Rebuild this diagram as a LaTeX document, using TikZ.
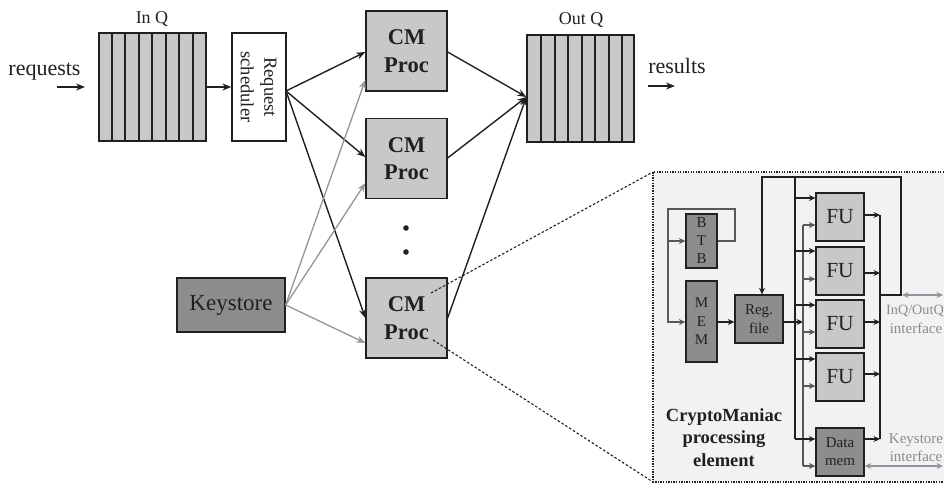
\documentclass[tikz,border=0pt]{standalone}
\usepackage{fontspec}
\setmainfont{Liberation Serif}
\usetikzlibrary{arrows.meta,calc,backgrounds}
\definecolor{ink}{HTML}{231F20}
\definecolor{lg}{HTML}{C7C8CA}
\definecolor{dg}{HTML}{8C8D8F}
\definecolor{wire}{HTML}{58595B}
\definecolor{gw}{HTML}{939598}
\definecolor{panel}{HTML}{F1F2F4}
\definecolor{soft}{HTML}{8A8B8D}
\newcommand{\fs}[1]{\fontsize{#1}{#1}\selectfont}
\tikzset{
  x=1pt,y=-1pt,
  box/.style={draw=ink,line width=1.3pt,inner sep=0pt,align=center,text=ink},
  lbox/.style={box,fill=lg},
  dbox/.style={box,fill=dg},
  txt/.style={inner sep=0pt,text=ink,align=center},
  soft label/.style={inner sep=0pt,text=soft,align=center,font=\fs{15}},
  arr/.style={draw=ink,line width=1.4pt,-{Stealth[length=9pt,width=7pt]}},
  garr/.style={draw=gw,line width=1.3pt,-{Stealth[length=9pt,width=7pt]}},
  sarr/.style={draw=ink,line width=1.05pt,-{Stealth[length=6.5pt,width=6pt]}},
  wirearr/.style={draw=wire,line width=1.05pt,-{Stealth[length=6.5pt,width=6pt]}},
  iface/.style={draw=gw,line width=1.1pt,{Stealth[length=6.5pt,width=6pt]}-{Stealth[length=6.5pt,width=6pt]}},
  slat/.style={draw=ink,line width=1.3pt},
  zoomline/.style={draw=ink,line width=1.2pt,dash pattern=on 1.3pt off 1.3pt},
  zoomdiag/.style={draw=ink,line width=1.1pt,dash pattern=on 2.5pt off 2pt},
}
\begin{document}
\begin{tikzpicture}
\useasboundingbox (0,0) rectangle (944,483);
% queues
\node[lbox,minimum width=107pt,minimum height=108pt] (inq) at (152.5,87) {};
\node[lbox,minimum width=107pt,minimum height=107pt] (outq) at (580.5,88.5) {};
\foreach \i/\x in {1/112,2/125,3/139,4/152,5/166,6/179,7/193}
  \draw[slat] (inq.north -| \x,0) -- (inq.south -| \x,0);
\foreach \i/\x in {1/541,2/555,3/568,4/582,5/595,6/609,7/622}
  \draw[slat] (outq.north -| \x,0) -- (outq.south -| \x,0);
\node[txt,font=\fs{18},anchor=base] (inql) at (152,23) {In Q};
\node[txt,font=\fs{18},anchor=base] (outql) at (581,24) {Out Q};
% scheduler
\node[box,fill=white,minimum width=54pt,minimum height=108pt] (sched) at (259,87) {};
\node[txt,font=\fs{18.5},rotate=-90,align=center] (schedl) at (258.5,87) {Request\\[5pt]scheduler};
% CM
\node[lbox,minimum width=81pt,minimum height=80pt,font=\fs{22.5}\bfseries] (cm1) at (406.5,51) {CM\\[5pt]Proc};
\node[lbox,minimum width=81pt,minimum height=80pt,font=\fs{22.5}\bfseries] (cm2) at (406.5,158.5) {CM\\[5pt]Proc};
\node[lbox,minimum width=81pt,minimum height=80pt,font=\fs{22.5}\bfseries] (cm3) at (406.5,318) {CM\\[5pt]Proc};
\fill[ink] (406,228) circle (2.8) (406,252) circle (2.8);
\node[dbox,minimum width=108pt,minimum height=54pt,font=\fs{23}] (key) at (231,305) {Keystore};
% labels
\node[txt,font=\fs{22},anchor=base] (req) at (44.5,75) {requests};
\node[txt,font=\fs{22},anchor=base] (res) at (677,73) {results};
\coordinate (reqa) at (57,87); \coordinate (reqb) at (85,87);
\coordinate (resa) at (648,86); \coordinate (resb) at (675,86);
\draw[arr] (reqa) -- (reqb);
\draw[arr] (resa) -- (resb);
\draw[arr] (inq.east |- 0,87) -- (sched.west |- 0,87);
\coordinate (fan) at (286,91);
\draw[arr] (fan) -- (cm1.west |- 0,52);
\draw[arr] (fan) -- (cm2.west |- 0,157);
\draw[arr] (fan) -- (cm3.west |- 0,318);
\coordinate (kfan) at (key.east);
\draw[garr] (kfan) -- (cm1.west |- 0,80);
\draw[garr] (kfan) -- (cm2.west |- 0,183);
\draw[garr] (kfan) -- (cm3.west |- 0,343);
\coordinate (qin) at (outq.west |- 0,97);
\draw[arr] (cm1.east |- 0,52) -- (qin);
\draw[arr] (cm2.east |- 0,158) -- (qin);
\draw[arr] (cm3.east |- 0,318) -- (qin);
% panel
\coordinate (pnw) at (653,172); \coordinate (psw) at (653,482);
\coordinate (pne) at (944,172); \coordinate (pse) at (944,482);
\fill[panel] (pnw) rectangle (pse);
\draw[zoomline] (pne) -- (pnw) -- (psw) -- (pse);
\draw[zoomdiag] (431,293) -- (pnw);
\draw[zoomdiag] (433,340) -- (psw);
% panel blocks
\node[dbox,minimum width=31pt,minimum height=54pt,font=\fs{15}] (btb) at (701.5,241) {B\\[3pt]T\\[3pt]B};
\node[dbox,minimum width=31pt,minimum height=81pt,font=\fs{15}] (mem) at (701.5,321.5) {M\\[3.5pt]E\\[3.5pt]M};
\node[dbox,minimum width=48pt,minimum height=48pt,font=\fs{15}] (reg) at (759,319) {Reg.\\[4pt]file};
\node[lbox,minimum width=48pt,minimum height=48pt,font=\fs{21.5}] (fu1) at (840,217) {FU};
\node[lbox,minimum width=48pt,minimum height=48pt,font=\fs{21.5}] (fu2) at (840,271) {FU};
\node[lbox,minimum width=48pt,minimum height=48pt,font=\fs{21.5}] (fu3) at (840,324) {FU};
\node[lbox,minimum width=48pt,minimum height=48pt,font=\fs{21.5}] (fu4) at (840,377) {FU};
\node[dbox,minimum width=48pt,minimum height=48pt,font=\fs{15}] (dm) at (840,452) {Data\\[3pt]mem};
\node[txt,font=\fs{18.5}\bfseries,anchor=north] (title) at (724,408) {CryptoManiac\\[4pt]processing\\[4pt]element};
% wiring
\draw[wirearr] (btb.east |- 0,241) -- (735,241) -- (735,209) -- (668,209) -- (668,322) -- (mem.west |- 0,322);
\draw[wirearr] (668,241) -- (btb.west |- 0,241);
\draw[sarr] (mem.east |- 0,322) -- (reg.west |- 0,322);
\draw[sarr] (reg.east |- 0,322) -- (803,322);
% gray bus
\draw[draw=wire,line width=1.05pt] (803,225) -- (803,466);
\foreach \t/\y in {fu1/225,fu2/279,fu3/332,fu4/386,dm/466}
  \draw[wirearr] (803,\y) -- (\t.west |- 0,\y);
% black bus
\draw[draw=ink,line width=1.05pt] (795,177) -- (795,439);
\foreach \t/\y in {fu1/198,fu2/251,fu3/305,fu4/359,dm/439}
  \draw[sarr] (795,\y) -- (\t.west |- 0,\y);
% collector
\draw[draw=ink,line width=1.05pt] (880,215) -- (880,439);
\foreach \t/\y in {fu1/215,fu2/273,fu3/322,fu4/374,dm/439}
  \draw[sarr] (\t.east |- 0,\y) -- (880,\y);
% feedback
\draw[sarr] (880,295) -- (901,295) -- (901,177) -- (762,177) -- (reg.north -| 762,0);
% interfaces
\coordinate (ifa) at (902,295); \coordinate (ifb) at (943,295);
\coordinate (ifc) at (943,466);
\draw[iface] (ifa) -- (ifb);
\draw[iface] (dm.east |- 0,466) -- (ifc);
\node[soft label,font=\fs{14.2},anchor=base west] (l1) at (886,314) {InQ/OutQ};
\node[soft label,anchor=base] (l2) at (916,333) {interface};
\node[soft label,anchor=base] (l3) at (916,443) {Keystore};
\node[soft label,anchor=base] (l4) at (916,461) {interface};
\end{tikzpicture}
\end{document}
